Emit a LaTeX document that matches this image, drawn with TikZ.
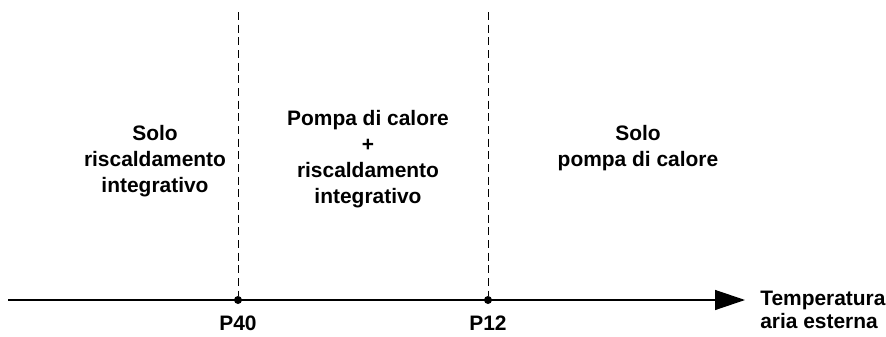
\documentclass[tikz,border=0pt]{standalone}
\usepackage{fontspec}
\setmainfont{Liberation Sans}
\usetikzlibrary{arrows.meta}
\tikzset{
  lbl/.style={font=\bfseries\fontsize{15.7}{19.5}\selectfont, align=center, inner sep=0pt, anchor=base},
  axislbl/.style={font=\bfseries\fontsize{15.7}{17}\selectfont, align=left, inner sep=0pt, anchor=base west},
  divider/.style={dash pattern=on 6pt off 3.5pt, line width=0.6pt},
  axisline/.style={line width=1pt, -{Triangle[length=22.5pt,width=15pt]}},
  dot/.style={circle, fill=black, inner sep=0pt, minimum size=6pt}
}
\begin{document}
\begin{tikzpicture}[x=0.75pt,y=-0.75pt]
\useasboundingbox (0,0) rectangle (886,336);
% axis
\coordinate (a0) at (8,300);
\coordinate (a1) at (745,300);
\draw[axisline] (a0) -- (a1);
% points
\node[dot] (p40) at (238,300) {};
\node[dot] (p12) at (488,300) {};
\coordinate (t40) at (238,12);
\coordinate (t12) at (488,12);
\draw[divider] (t40) -- (p40);
\draw[divider] (t12) -- (p12);
% labels
\node[lbl] (l40) at (238,330) {P40};
\node[lbl] (l12) at (488,330) {P12};
\node[axislbl] (temp) at (760,328) {Temperatura\\aria esterna};
% region texts (anchor base = last line)
\node[lbl] (r1) at (155,192) {Solo\\riscaldamento\\integrativo};
\node[lbl] (r2) at (368,203) {Pompa di calore\\+\\riscaldamento\\integrativo};
\node[lbl] (r3) at (638,166) {Solo\\pompa di calore};
\end{tikzpicture}
\end{document}
